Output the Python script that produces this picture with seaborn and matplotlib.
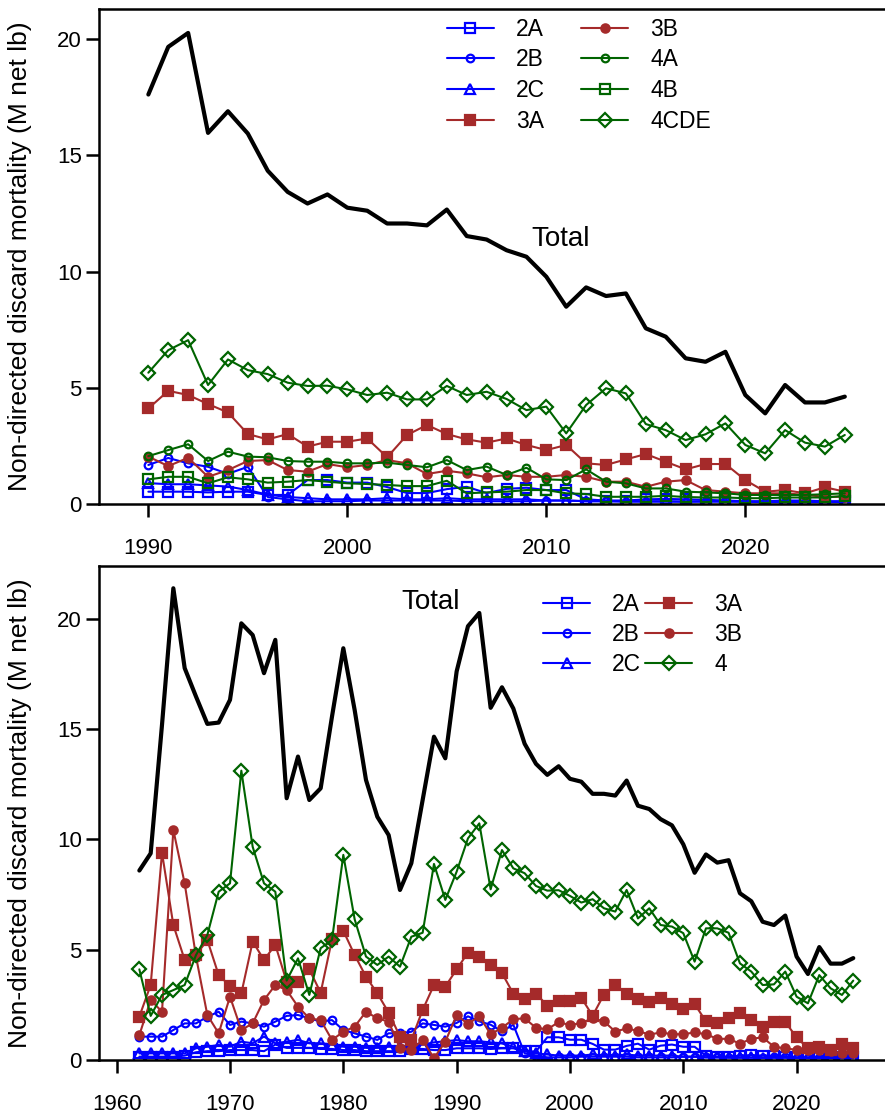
import matplotlib
matplotlib.use('Agg')
import matplotlib.pyplot as plt
import seaborn as sns
from matplotlib.lines import Line2D

# years
years_recent = list(range(1990, 2026))
years_early = list(range(1962, 1990))

# 1990-2025 values (M net lb)
total_recent = [17.62, 19.67, 20.27, 15.97, 16.90, 15.94, 14.34, 13.43, 12.93, 13.32,
                12.75, 12.62, 12.07, 12.07, 11.99, 12.67, 11.53, 11.38, 10.92, 10.64,
                9.78, 8.49, 9.32, 8.95, 9.06, 7.56, 7.20, 6.27, 6.12, 6.55,
                4.69, 3.90, 5.12, 4.37, 4.37, 4.62]
a2A = [0.53, 0.53, 0.53, 0.50, 0.53, 0.53, 0.39, 0.39, 1.03, 1.03,
       0.92, 0.92, 0.73, 0.47, 0.47, 0.64, 0.74, 0.47, 0.65, 0.70,
       0.60, 0.60, 0.20, 0.15, 0.15, 0.20, 0.22, 0.20, 0.18, 0.15,
       0.12, 0.12, 0.15, 0.15, 0.12, 0.12]
a2B = [1.68, 1.98, 1.75, 1.60, 1.30, 1.60, 0.30, 0.20, 0.12, 0.12,
       0.12, 0.15, 0.15, 0.15, 0.15, 0.15, 0.12, 0.12, 0.12, 0.12,
       0.15, 0.15, 0.12, 0.12, 0.10, 0.10, 0.10, 0.10, 0.12, 0.12,
       0.10, 0.10, 0.10, 0.10, 0.10, 0.10]
a2C = [0.90, 0.85, 0.85, 0.80, 0.75, 0.60, 0.40, 0.30, 0.25, 0.20,
       0.20, 0.20, 0.25, 0.20, 0.20, 0.25, 0.20, 0.20, 0.20, 0.20,
       0.15, 0.15, 0.12, 0.12, 0.12, 0.12, 0.12, 0.10, 0.10, 0.10,
       0.10, 0.08, 0.08, 0.08, 0.08, 0.08]
a3A = [4.11, 4.87, 4.69, 4.30, 3.94, 3.01, 2.78, 3.01, 2.47, 2.68,
       2.68, 2.82, 2.01, 2.97, 3.40, 3.01, 2.78, 2.64, 2.82, 2.54,
       2.32, 2.54, 1.75, 1.68, 1.92, 2.15, 1.82, 1.49, 1.72, 1.72,
       1.03, 0.53, 0.60, 0.46, 0.72, 0.53]
a3B = [2.04, 1.63, 1.99, 1.17, 1.46, 1.85, 1.89, 1.46, 1.39, 1.72,
       1.58, 1.68, 1.89, 1.75, 1.29, 1.43, 1.32, 1.15, 1.25, 1.17,
       1.17, 1.25, 1.17, 0.96, 0.96, 0.74, 0.96, 1.03, 0.60, 0.53,
       0.46, 0.46, 0.46, 0.39, 0.31, 0.31]
a4A = [2.06, 2.32, 2.57, 1.85, 2.25, 2.04, 2.01, 1.85, 1.82, 1.82,
       1.75, 1.75, 1.78, 1.68, 1.58, 1.89, 1.46, 1.61, 1.25, 1.56,
       1.06, 1.03, 1.49, 0.96, 0.89, 0.67, 0.67, 0.53, 0.50, 0.46,
       0.39, 0.39, 0.39, 0.39, 0.42, 0.46]
a4B = [1.06, 1.17, 1.17, 0.89, 1.15, 1.06, 0.92, 0.96, 1.03, 0.96,
       0.89, 0.86, 0.82, 0.77, 0.77, 1.00, 0.46, 0.50, 0.53, 0.60,
       0.60, 0.46, 0.43, 0.31, 0.31, 0.31, 0.35, 0.30, 0.28, 0.28,
       0.25, 0.25, 0.28, 0.28, 0.28, 0.35]
a4CDE = [5.65, 6.62, 7.05, 5.12, 6.22, 5.76, 5.59, 5.22, 5.08, 5.09,
         4.93, 4.69, 4.79, 4.50, 4.50, 5.08, 4.69, 4.83, 4.52, 4.04,
         4.19, 3.04, 4.26, 4.98, 4.76, 3.44, 3.18, 2.75, 3.00, 3.47,
         2.54, 2.18, 3.18, 2.64, 2.47, 2.97]
a4_recent = [8.54, 10.05, 10.73, 7.74, 9.52, 8.69, 8.47, 7.89, 7.68, 7.70,
             7.44, 7.14, 7.29, 6.88, 6.73, 7.71, 6.42, 6.88, 6.12, 6.05,
             5.75, 4.46, 5.97, 5.97, 5.77, 4.38, 4.01, 3.40, 3.43, 4.01,
             2.87, 2.57, 3.85, 3.25, 2.95, 3.60]

# 1962-1989 values (bottom panel only)
total_early = [8.59, 9.37, 15.2, 21.39, 17.77, 16.48, 15.24, 15.30,
               16.33, 19.80, 19.27, 17.54, 19.05, 11.87, 13.76, 11.79, 12.32, 15.57,
               18.67, 15.87, 12.70, 11.03, 10.20, 7.71, 8.92, 11.79, 14.66, 13.68]
e2A = [0.15, 0.15, 0.15, 0.15, 0.20, 0.35, 0.40, 0.40,
       0.45, 0.45, 0.45, 0.40, 0.70, 0.55, 0.55, 0.55, 0.50, 0.50,
       0.45, 0.45, 0.40, 0.40, 0.40, 0.40, 0.50, 0.50, 0.45, 0.45]
e2B = [1.06, 1.06, 1.06, 1.36, 1.66, 1.66, 1.96, 2.19,
       1.59, 1.74, 1.66, 1.51, 1.74, 2.00, 2.04, 1.89, 1.74, 1.81,
       1.36, 1.21, 1.06, 0.91, 1.21, 1.21, 1.28, 1.66, 1.59, 1.51]
e2C = [0.30, 0.30, 0.30, 0.30, 0.30, 0.53, 0.60, 0.68,
       0.60, 0.83, 0.76, 1.06, 0.76, 0.83, 0.91, 0.76, 0.76, 0.70,
       0.60, 0.60, 0.55, 0.55, 0.60, 0.60, 0.65, 0.70, 0.80, 0.85]
e3A = [1.97, 3.40, 9.40, 6.12, 4.54, 4.76, 5.44, 3.85,
       3.36, 3.02, 5.37, 4.54, 5.22, 3.55, 3.55, 4.11, 3.05, 5.47,
       5.86, 4.76, 3.78, 3.02, 2.15, 1.06, 0.91, 2.27, 3.40, 3.33]
e3B = [1.13, 2.72, 2.19, 10.43, 8.01, 4.69, 2.04, 1.21,
       2.87, 1.36, 1.66, 2.72, 3.40, 3.17, 2.42, 1.89, 1.81, 0.91,
       1.28, 1.51, 2.19, 1.89, 1.74, 0.53, 0.45, 0.91, 0.08, 0.83]
e4 = [4.11, 2.00, 2.95, 3.17, 3.40, 4.76, 5.67, 7.63,
      8.01, 13.12, 9.67, 8.01, 7.63, 3.60, 4.61, 2.95, 5.07, 5.44,
      9.30, 6.38, 4.69, 4.31, 4.69, 4.23, 5.59, 5.77, 8.89, 7.26]

BLUE = '#0000FF'
BROWN = '#A52A2A'
GREEN = '#006400'

styles = {
    '2A': dict(color=BLUE, marker='s', mfc='none', ms=7.5),
    '2B': dict(color=BLUE, marker='o', mfc='none', ms=5.5),
    '2C': dict(color=BLUE, marker='^', mfc='none', ms=7.5),
    '3A': dict(color=BROWN, marker='s', mfc=BROWN, ms=7.5),
    '3B': dict(color=BROWN, marker='o', mfc=BROWN, ms=6),
    '4A': dict(color=GREEN, marker='o', mfc='none', ms=5.5),
    '4B': dict(color=GREEN, marker='s', mfc='none', ms=6.5),
    '4CDE': dict(color=GREEN, marker='D', mfc='none', ms=7),
    '4': dict(color=GREEN, marker='D', mfc='none', ms=7),
}

sns.set_style('ticks')
plt.rcParams['font.family'] = ['Liberation Sans', 'DejaVu Sans']
plt.rcParams['text.color'] = 'black'
plt.rcParams['axes.labelcolor'] = 'black'


def draw_series(ax, years, values, key):
    st = styles[key]
    sns.lineplot(x=years, y=values, ax=ax, color=st['color'], marker=st['marker'],
                 markerfacecolor=st['mfc'], markeredgecolor=st['color'],
                 markersize=st['ms'], markeredgewidth=1.6, linewidth=1.5,
                 errorbar=None, legend=False)


def handle(key):
    st = styles[key]
    return Line2D([], [], color=st['color'], marker=st['marker'], markerfacecolor=st['mfc'],
                  markeredgecolor=st['color'], markersize=st['ms'], markeredgewidth=1.6,
                  linewidth=1.5)


def style_axes(ax, xlim, ylim, xticks):
    ax.set_xlim(*xlim)
    ax.set_ylim(*ylim)
    ax.set_xticks(xticks)
    ax.set_yticks([0, 5, 10, 15, 20])
    ax.spines['right'].set_visible(False)
    for s in ['left', 'bottom', 'top']:
        ax.spines[s].set_linewidth(1.8)
        ax.spines[s].set_color('black')
    ax.tick_params(axis='both', direction='out', length=9.5, width=1.8, labelsize=16, colors='black')
    ax.tick_params(axis='x', pad=15)
    ax.tick_params(axis='y', pad=3)
    ax.set_xlabel('')
    ax.set_ylabel('Non-directed discard mortality (M net lb)', fontsize=19, color='black')
    ax.yaxis.set_label_coords(-0.0852, 0.5)


fig = plt.figure(figsize=(8.85, 11.14), dpi=100)
ax1 = fig.add_axes([99 / 885, 1 - 504 / 1114, 786 / 885, 495 / 1114])
ax2 = fig.add_axes([99 / 885, 1 - 1060 / 1114, 786 / 885, 494 / 1114])

# top panel: 1990 onwards by area
top_series = {'2A': a2A, '2B': a2B, '2C': a2C, '3A': a3A, '3B': a3B,
              '4A': a4A, '4B': a4B, '4CDE': a4CDE}
for key, vals in top_series.items():
    draw_series(ax1, years_recent, vals, key)
sns.lineplot(x=years_recent, y=total_recent, ax=ax1, color='black', linewidth=3, errorbar=None)
ax1.text(2010.7, 11.4, 'Total', fontsize=20, ha='center', va='center', color='black')
style_axes(ax1, (1987.52, 2027.02), (0, 21.3), [1990, 2000, 2010, 2020])
order1 = ['2A', '2B', '2C', '3A', '3B', '4A', '4B', '4CDE']
ax1.legend([handle(k) for k in order1], order1, ncol=2, loc='upper left',
           bbox_to_anchor=(0.4427, 0.982), frameon=False, fontsize=16.5,
           handlelength=2.05, handletextpad=0.95, columnspacing=1.6,
           labelspacing=0.33, borderpad=0, borderaxespad=0)

# bottom panel: full time series
years_all = years_early + years_recent
bottom_series = {'2A': e2A + a2A, '2B': e2B + a2B, '2C': e2C + a2C,
                 '3A': e3A + a3A, '3B': e3B + a3B, '4': e4 + a4_recent}
for key, vals in bottom_series.items():
    draw_series(ax2, years_all, vals, key)
sns.lineplot(x=years_all, y=total_early + total_recent, ax=ax2, color='black', linewidth=3,
             errorbar=None)
ax2.text(1987.7, 20.75, 'Total', fontsize=20, ha='center', va='center', color='black')
style_axes(ax2, (1958.44, 2027.8), (0, 22.4), [1960, 1970, 1980, 1990, 2000, 2010, 2020])
order2 = ['2A', '2B', '2C', '3A', '3B', '4']
ax2.legend([handle(k) for k in order2], order2, ncol=2, loc='upper left',
           bbox_to_anchor=(0.565, 0.945), frameon=False, fontsize=16.5,
           handlelength=2.05, handletextpad=0.95, columnspacing=0.2,
           labelspacing=0.31, borderpad=0, borderaxespad=0)

fig.savefig('out.png', dpi=100)
